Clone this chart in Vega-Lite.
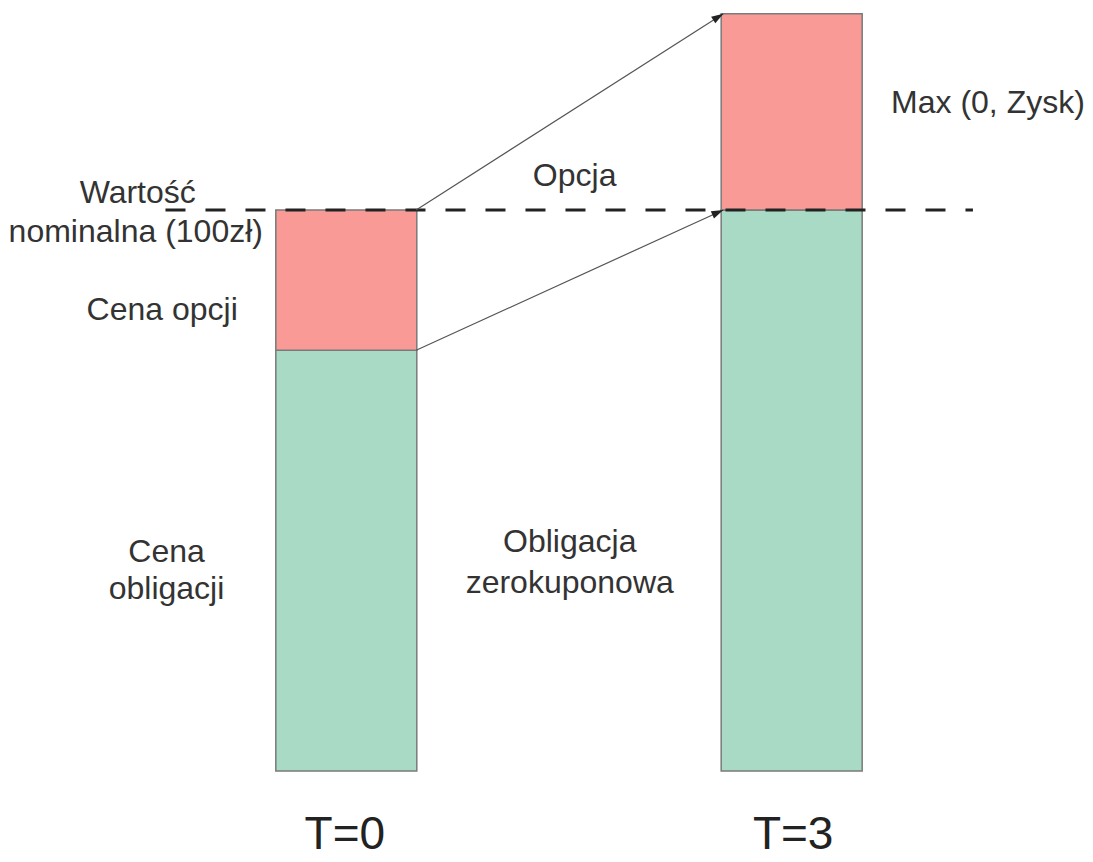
{
  "$schema": "https://vega.github.io/schema/vega-lite/v6.json",
  "autosize": {"type": "none"},
  "width": 1093,
  "height": 862,
  "padding": 0,
  "background": "white",
  "config": {"view": {"stroke": null}, "axis": {"disable": true}},
  "datasets": {
    "bars": [
      {"t": 0, "part": "Obligacja", "low": 0, "high": 75},
      {"t": 0, "part": "Opcja", "low": 75, "high": 100},
      {"t": 3, "part": "Obligacja", "low": 0, "high": 100},
      {"t": 3, "part": "Opcja", "low": 100, "high": 135}
    ],
    "nominal": [{"x_from": -1.218, "x_to": 4.221, "value": 100}],
    "arrows": [
      {"id": "opcja", "x_from": 0.4705, "y_from": 100, "x_to": 2.5396, "y_to": 135},
      {"id": "obligacja", "x_from": 0.4705, "y_from": 75, "x_to": 2.5396, "y_to": 100}
    ],
    "labels": [
      {"kind": "small", "label": "Wartość", "x": -1.405, "y": 101.3},
      {"kind": "small", "label": "nominalna (100zł)", "x": -1.418, "y": 94.3},
      {"kind": "small", "label": "Cena opcji", "x": -1.24, "y": 80.4},
      {"kind": "small", "label": "Cena", "x": -1.211, "y": 37.3},
      {"kind": "small", "label": "obligacji", "x": -1.211, "y": 30.7},
      {"kind": "small", "label": "Obligacja", "x": 1.505, "y": 39.0},
      {"kind": "small", "label": "zerokuponowa", "x": 1.505, "y": 31.7},
      {"kind": "small", "label": "Opcja", "x": 1.538, "y": 104.3},
      {"kind": "small", "label": "Max (0, Zysk)", "x": 4.322, "y": 117.3},
      {"kind": "big", "label": "T=0", "x": -0.01, "y": -13.9},
      {"kind": "big", "label": "T=3", "x": 3.01, "y": -13.9}
    ]
  },
  "layer": [
    {
      "data": {"name": "bars"},
      "mark": {"type": "bar", "width": 141, "stroke": "#7a7a7a", "strokeWidth": 1.5},
      "encoding": {
        "x": {"field": "t", "type": "quantitative", "scale": {"domain": [-2.299, 4.996], "nice": false, "zero": false}},
        "y": {"field": "low", "type": "quantitative", "scale": {"domain": [-16.22, 137.43], "nice": false, "zero": false}},
        "y2": {"field": "high"},
        "color": {"field": "part", "type": "nominal", "scale": {"domain": ["Obligacja", "Opcja"], "range": ["#A9DAC5", "#F99A97"]}, "legend": null}
      }
    },
    {
      "data": {"name": "nominal"},
      "mark": {"type": "rule", "color": "#222222", "strokeWidth": 3, "strokeDash": [20, 20], "strokeDashOffset": 0},
      "encoding": {
        "x": {"field": "x_from", "type": "quantitative", "scale": {"domain": [-2.299, 4.996], "nice": false, "zero": false}},
        "x2": {"field": "x_to"},
        "y": {"field": "value", "type": "quantitative", "scale": {"domain": [-16.22, 137.43], "nice": false, "zero": false}}
      }
    },
    {
      "data": {"name": "arrows"},
      "mark": {"type": "rule", "color": "#555555", "strokeWidth": 1.2},
      "encoding": {
        "x": {"field": "x_from", "type": "quantitative", "scale": {"domain": [-2.299, 4.996], "nice": false, "zero": false}},
        "x2": {"field": "x_to"},
        "y": {"field": "y_from", "type": "quantitative", "scale": {"domain": [-16.22, 137.43], "nice": false, "zero": false}},
        "y2": {"field": "y_to"}
      }
    },
    {
      "data": {"name": "arrows"},
      "transform": [{"filter": "datum.id === 'opcja'"}],
      "mark": {"type": "point", "shape": "M0,0L-0.65,2L0.65,2Z", "filled": true, "color": "#222222", "opacity": 1, "size": 144, "angle": 57.5},
      "encoding": {
        "x": {"field": "x_to", "type": "quantitative", "scale": {"domain": [-2.299, 4.996], "nice": false, "zero": false}},
        "y": {"field": "y_to", "type": "quantitative", "scale": {"domain": [-16.22, 137.43], "nice": false, "zero": false}}
      }
    },
    {
      "data": {"name": "arrows"},
      "transform": [{"filter": "datum.id === 'obligacja'"}],
      "mark": {"type": "point", "shape": "M0,0L-0.65,2L0.65,2Z", "filled": true, "color": "#222222", "opacity": 1, "size": 144, "angle": 65.7},
      "encoding": {
        "x": {"field": "x_to", "type": "quantitative", "scale": {"domain": [-2.299, 4.996], "nice": false, "zero": false}},
        "y": {"field": "y_to", "type": "quantitative", "scale": {"domain": [-16.22, 137.43], "nice": false, "zero": false}}
      }
    },
    {
      "data": {"name": "labels"},
      "transform": [{"filter": "datum.kind === 'small'"}],
      "mark": {"type": "text", "font": "Liberation Sans", "fontSize": 32, "color": "#333333", "align": "center", "baseline": "alphabetic"},
      "encoding": {
        "x": {"field": "x", "type": "quantitative", "scale": {"domain": [-2.299, 4.996], "nice": false, "zero": false}},
        "y": {"field": "y", "type": "quantitative", "scale": {"domain": [-16.22, 137.43], "nice": false, "zero": false}},
        "text": {"field": "label"}
      }
    },
    {
      "data": {"name": "labels"},
      "transform": [{"filter": "datum.kind === 'big'"}],
      "mark": {"type": "text", "font": "Liberation Sans", "fontSize": 46, "color": "#222222", "align": "center", "baseline": "alphabetic"},
      "encoding": {
        "x": {"field": "x", "type": "quantitative", "scale": {"domain": [-2.299, 4.996], "nice": false, "zero": false}},
        "y": {"field": "y", "type": "quantitative", "scale": {"domain": [-16.22, 137.43], "nice": false, "zero": false}},
        "text": {"field": "label"}
      }
    }
  ]
}
